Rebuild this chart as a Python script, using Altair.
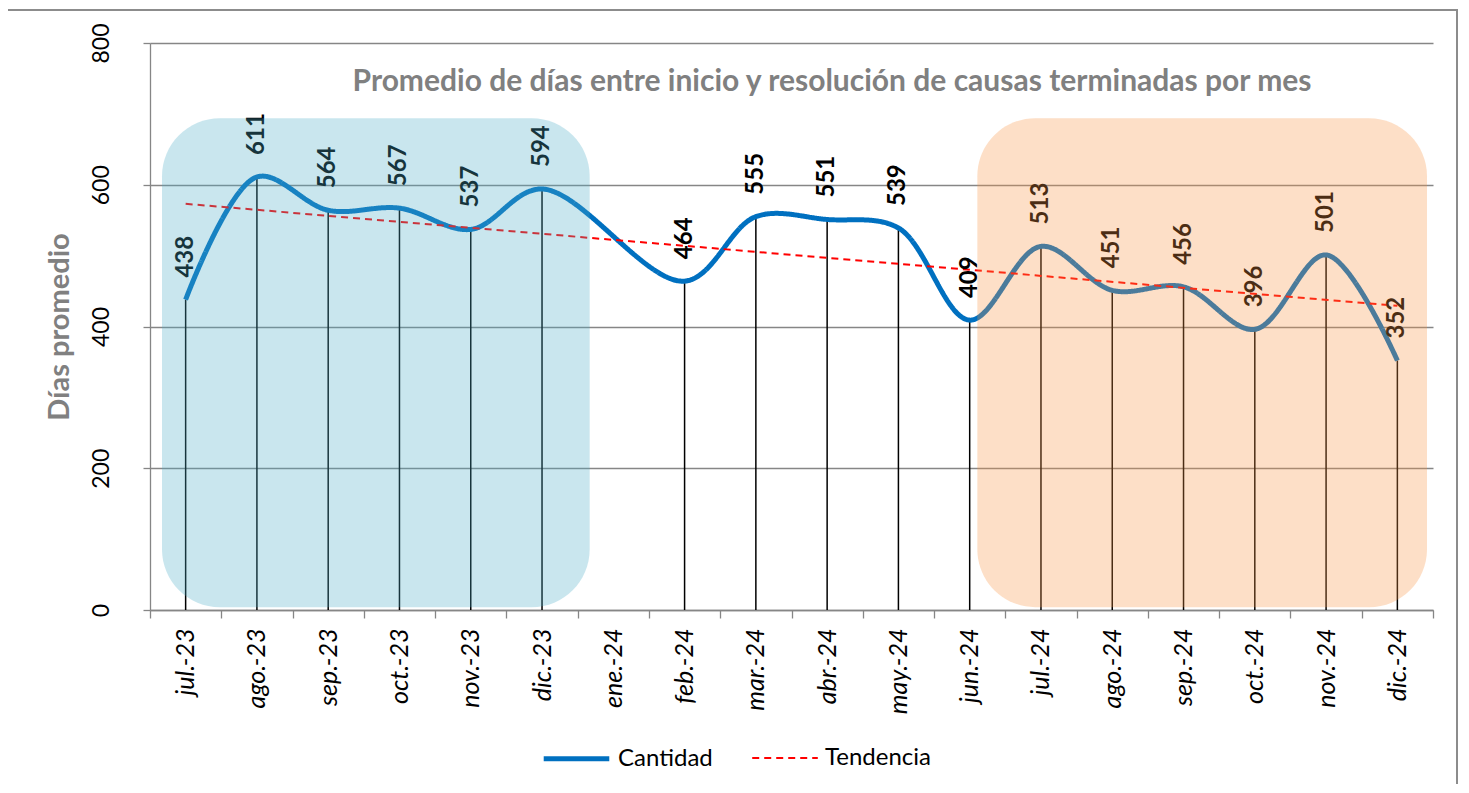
import altair as alt
import pandas as pd

meses = ["jul.-23", "ago.-23", "sep.-23", "oct.-23", "nov.-23", "dic.-23",
         "ene.-24", "feb.-24", "mar.-24", "abr.-24", "may.-24", "jun.-24",
         "jul.-24", "ago.-24", "sep.-24", "oct.-24", "nov.-24", "dic.-24"]
dias = [438, 611, 564, 567, 537, 594, None, 464, 555, 551, 539, 409,
        513, 451, 456, 396, 501, 352]
series = ["Cantidad", "Tendencia"]
series_color = ["#0070C0", "#FF0000"]
zona_inicio = ["jul.-23", "jul.-24"]
zona_fin = ["dic.-23", "dic.-24"]
zona_color = ["#4BACC6", "#F79646"]

titulo = ["Promedio de días entre inicio y resolución de causas terminadas por mes"]

df = pd.DataFrame({"mes": meses, "idx": list(range(len(meses))), "dias": dias})
zonas = pd.DataFrame({"inicio": zona_inicio, "fin": zona_fin, "color": zona_color})
df_titulo = pd.DataFrame({"titulo": titulo})

FONT = "Lato"
GRID = "#868686"

x_enc = alt.X(
    "mes:N",
    sort=meses,
    scale=alt.Scale(type="band", domain=meses, paddingInner=0, paddingOuter=0),
    axis=alt.Axis(
        title=None, labelAngle=270, labelAlign="right", labelBaseline="middle",
        labelFont=FONT, labelFontStyle="italic", labelFontSize=25, labelColor="black",
        labelPadding=10, tickBand="extent", tickSize=8, tickColor=GRID, tickWidth=1.3,
        domainColor=GRID, domainWidth=1.3, grid=False, labelOverlap=False,
    ),
)
y_enc = alt.Y(
    "dias:Q",
    scale=alt.Scale(domain=[0, 800], nice=False),
    axis=alt.Axis(
        values=[0, 200, 400, 600, 800], title="Días promedio",
        titleFont=FONT, titleFontSize=29, titleFontWeight="bold", titleColor="#808080",
        titlePadding=16, labelAngle=270, labelAlign="center", labelBaseline="bottom",
        labelFont=FONT, labelFontSize=23, labelColor="black", labelPadding=30,
        tickSize=7, tickColor=GRID, tickWidth=1.3, domainColor=GRID, domainWidth=1.3,
        grid=True, gridColor=GRID, gridWidth=1.3,
    ),
)

leg = alt.Legend(
    orient="none", legendX=391, legendY=680, direction="horizontal", title=None,
    symbolType="stroke", symbolSize=4300, labelFont=FONT, labelFontSize=24,
    labelColor="black", columnPadding=35, labelOffset=6,
)
color_enc = alt.Color("serie:N", scale=alt.Scale(domain=series, range=series_color), legend=leg)
dash_enc = alt.StrokeDash("serie:N", scale=alt.Scale(domain=series, range=[[1, 0], [7, 5]]), legend=leg)
width_enc = alt.StrokeWidth("serie:N", scale=alt.Scale(domain=series, range=[5, 2]), legend=leg)

base = alt.Chart(df)
valid = "isValid(datum.dias)"

rules = base.transform_filter(valid).mark_rule(color="black", strokeWidth=1.5).encode(
    x=x_enc, y=y_enc, y2=alt.datum(0)
)

line = base.transform_filter(valid).transform_calculate(serie="'Cantidad'").mark_line(
    interpolate="catmull-rom"
).encode(x=x_enc, y=y_enc, color=color_enc, strokeDash=dash_enc, strokeWidth=width_enc)

mes_expr = "[" + ",".join("'" + m + "'" for m in meses) + "][datum.idx]"
trend = base.transform_filter(valid).transform_regression(
    "idx", "dias", method="linear"
).transform_calculate(mes=mes_expr, serie="'Tendencia'").mark_line().encode(
    x=x_enc, y=y_enc, color=color_enc, strokeDash=dash_enc, strokeWidth=width_enc
)

labels = base.transform_filter(valid).mark_text(
    angle=270, align="left", baseline="middle", dx=22, font=FONT, fontSize=24,
    fontWeight="bold", color="black"
).encode(x=x_enc, y=y_enc, text=alt.Text("dias:Q", format=".0f"))

offsets = [(12, 12), (-28, -6)]
rects = []
for (ini, (xo, x2o)) in zip(zona_inicio, offsets):
    rects.append(
        alt.Chart(zonas).transform_filter(f"datum.inicio == '{ini}'").mark_rect(
            cornerRadius=58, fillOpacity=0.3, xOffset=xo, x2Offset=x2o
        ).encode(
            x=alt.X("inicio:N", bandPosition=0),
            x2=alt.X2("fin:N", bandPosition=1),
            y=alt.datum(4),
            y2=alt.datum(694),
            fill=alt.Fill("color:N", scale=None, legend=None),
        )
    )

title_mark = alt.Chart(df_titulo).mark_text(
    font=FONT, fontSize=30, fontWeight="bold", color="#808080",
    align="center", baseline="alphabetic",
).encode(text="titulo:N", x=alt.value(682), y=alt.value(48))

# chart-area frame (decoration)
frame = alt.Chart(df_titulo).mark_rect(
    filled=False, stroke="#8C8C8C", strokeWidth=2
).encode(x=alt.value(-144), x2=alt.value(1307), y=alt.value(-33), y2=alt.value(780))

chart = alt.layer(frame, rules, line, trend, labels, *rects, title_mark).properties(
    width=1283, height=567,
    autosize="none",
    padding={"left": 142, "top": 35, "right": 25, "bottom": 174},
).configure_view(stroke=None)

chart.save("out.html", embed_options={"renderer": "svg", "actions": False})
